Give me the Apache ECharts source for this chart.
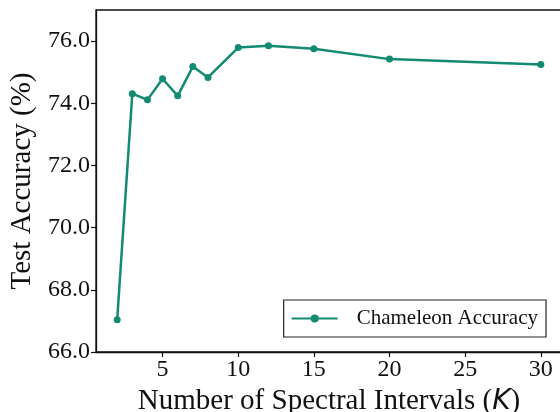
<!DOCTYPE html>
<html>
<head>
<meta charset="utf-8">
<script src="https://cdn.jsdelivr.net/npm/echarts@6/dist/echarts.min.js"></script>
<style>
    html, body { margin: 0; padding: 0; background: #fff; }
    #chart { width: 560px; height: 412px; }
</style>
</head>
<body>
<div id="chart"></div>
<script>
    // number of spectral intervals K
    var intervals = [2, 3, 4, 5, 6, 7, 8, 10, 12, 15, 20, 30];
    // test accuracy (%)
    var accuracy = [67.04, 74.31, 74.11, 74.79, 74.24, 75.18, 74.83, 75.79, 75.85, 75.75, 75.42, 75.25];
    var xTicks = [5, 10, 15, 20, 25, 30];
    var yTicks = [66, 68, 70, 72, 74, 76];

    var serif = '"Liberation Serif", "DejaVu Serif", serif';
    var color = '#138A72';

    var points = intervals.map(function (k, i) { return [k, accuracy[i]]; });

    var chart = echarts.init(document.getElementById('chart'));
    chart.setOption({
        animation: false,
        grid: {
            left: 96,
            right: -2,
            top: 10,
            bottom: 60,
            outerBoundsMode: 'none',
            show: true,
            borderColor: '#111',
            borderWidth: 1.3
        },
        legend: {
            right: 14,
            top: 300,
            itemWidth: 46,
            itemHeight: 10,
            padding: [8, 8, 8, 7],
            borderColor: '#222',
            borderWidth: 1.2,
            borderRadius: 0,
            textStyle: { fontFamily: serif, fontSize: 21, color: '#111', padding: [0, 0, 0, 14] },
            data: ['Chameleon Accuracy']
        },
        xAxis: {
            type: 'value',
            min: 0.6,
            max: 31.4,
            splitLine: { show: false },
            axisLine: { show: true, onZero: false, lineStyle: { color: '#111', width: 1.3 } },
            axisTick: {
                show: true, length: 5, inside: false,
                customValues: xTicks,
                lineStyle: { color: '#111', width: 1.2 }
            },
            axisLabel: {
                customValues: xTicks,
                fontFamily: serif, fontSize: 24, color: '#111', margin: 6
            },
            name: '{t|Number of Spectral Intervals (}{k|K}{t|)}',
            nameLocation: 'middle',
            nameGap: 32,
            nameTextStyle: {
                rich: {
                    t: { fontFamily: serif, fontSize: 29, color: '#111' },
                    k: { fontFamily: '"DejaVu Sans", sans-serif', fontStyle: 'italic', fontSize: 28, color: '#111' }
                }
            }
        },
        yAxis: {
            type: 'value',
            min: 66,
            max: 77,
            splitLine: { show: false },
            axisLine: { show: true, lineStyle: { color: '#111', width: 1.3 } },
            axisTick: {
                show: true, length: 5, inside: false,
                customValues: yTicks,
                lineStyle: { color: '#111', width: 1.2 }
            },
            axisLabel: {
                customValues: yTicks,
                fontFamily: serif, fontSize: 24, color: '#111', margin: 6,
                formatter: function (v) { return v.toFixed(1); }
            },
            name: 'Test Accuracy (%)',
            nameLocation: 'middle',
            nameGap: 54,
            nameTextStyle: { fontFamily: serif, fontSize: 29, color: '#111' }
        },
        series: [
            {
                name: 'Chameleon Accuracy',
                type: 'line',
                data: points,
                symbol: 'circle',
                symbolSize: 7,
                itemStyle: { color: color },
                lineStyle: { color: color, width: 2.5 }
            }
        ]
    });
</script>
</body>
</html>
